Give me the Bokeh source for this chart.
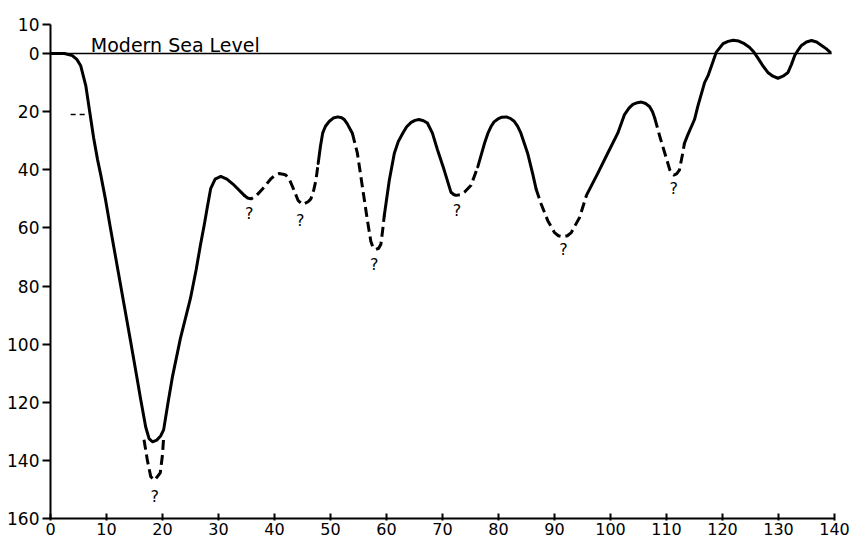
from bokeh.plotting import figure
from bokeh.models import Range1d, FixedTicker, ColumnDataSource
from bokeh.core.properties import value
from bokeh.embed import file_html
from bokeh.resources import INLINE

# ---- data: age (ka) vs sea level depth below modern (m) ----
# solid segments
drop_age = [0, 2.5, 3.9, 4.7, 5.4, 6.3, 7.0, 7.7, 8.4, 9.0, 9.8, 10.7, 11.9, 13.1, 14.3, 15.3, 16.1, 17.0,
            17.6, 18.2, 19.0, 19.7, 20.2, 21.0, 21.8, 23.2, 25.0, 26.0, 26.8, 27.5, 28.0, 28.6, 29.4,
            30.4, 31.5, 32.8, 34.6]
drop_depth = [0, 0, 0.7, 2.0, 4.2, 11.0, 20.0, 29.0, 36.5, 42.0, 50, 60, 73, 86, 99, 110, 119, 128.5,
              132.5, 133.6, 133.0, 131.5, 129.5, 120, 111, 98, 84.2, 74.5, 65.6, 58.5, 52.9, 46.5, 43.2,
              42.3, 43.2, 45.3, 48.8]
hump50_age = [47.8, 48.2, 48.6, 49.1, 49.8, 50.5, 51.3, 52.0, 52.5, 53.0, 53.9]
hump50_depth = [37.8, 32.0, 27.4, 25.0, 23.3, 22.2, 21.8, 22.1, 22.8, 24.2, 27.4]
hump65_age = [59.6, 60.5, 61.4, 62.1, 62.9, 63.6, 64.4, 65.1, 65.8, 66.6, 67.3, 68.2, 69.1, 70.3, 71.5]
hump65_depth = [55.8, 43.6, 34.3, 30.3, 27.4, 25.2, 23.7, 23.0, 22.7, 23.1, 23.9, 27.4, 33.1, 40.1, 47.7]
hump80_age = [76.3, 77.5, 78.1, 78.7, 79.2, 79.9, 80.6, 81.4, 82.1, 82.8, 83.4, 84.0, 85.2, 86.1, 86.7]
hump80_depth = [39, 30.9, 27.5, 25, 23.5, 22.5, 21.9, 21.8, 22.3, 23.3, 25.0, 27.4, 34.3, 41.3, 46.5]
hump105_age = [95.7, 97.7, 99.5, 101.3, 102.5, 103.3, 104.0, 104.8, 105.5, 106.3, 107.0, 107.5, 107.9]
hump105_depth = [48.8, 41.3, 34.3, 27.4, 21, 18.8, 17.5, 16.9, 16.7, 17.2, 18.3, 20.0, 22.2]
rise_age = [113.2, 113.8, 115.0, 115.6, 116.8, 117.4, 118.2, 118.9, 120.1, 121.0, 121.9, 122.9, 123.9, 124.8,
            125.6, 126.3, 127.2, 128.1, 129.0, 129.9, 130.8, 131.7, 132.3, 132.9, 133.5, 134.1, 135.0,
            135.9, 136.8, 137.7, 138.5, 139.2]
rise_depth = [30.9, 28.0, 22.7, 18.1, 10, 7.7, 3.3, -0.5, -3.4, -4.2, -4.6, -4.3, -3.4, -2.2,
              -0.5, 1.5, 4.2, 6.5, 7.8, 8.5, 7.8, 6.5, 3.8, 0.7, -1.2, -2.8, -4.0,
              -4.5, -4.0, -2.8, -1.7, -0.5]

# dashed (uncertain) segments
low18_age = [16.7, 17.3, 17.9, 18.6, 19.6, 20.0, 20.2]
low18_depth = [132.9, 140.0, 145.6, 146.8, 144.3, 138.0, 132.2]
low40_age = [34.6, 35.2, 35.8, 36.8, 37.9, 39.4, 40.1, 40.8, 41.5, 42.0, 42.6, 43.5, 44.2, 45.0, 46.0, 46.5, 47.0, 47.4, 47.8]
low40_depth = [48.8, 49.7, 50, 48.8, 46.5, 43, 41.8, 41.3, 41.5, 41.8, 43, 47.1, 50.5, 51.9, 51, 50, 47.0, 43.6, 37.8]
low57_age = [53.9, 54.8, 55.7, 56.6, 57.2, 57.6, 58.1, 58.6, 59.0, 59.3, 59.6]
low57_depth = [27.4, 34.3, 45.9, 57.5, 64.6, 66.8, 67.4, 67.0, 65.6, 61.0, 55.8]
low72_age = [71.5, 72.0, 72.4, 73.1, 73.9, 75.1, 76.3]
low72_depth = [47.7, 48.5, 48.8, 48.6, 47.7, 45.3, 39]
low91_age = [86.7, 87.6, 88.8, 90.0, 90.7, 91.5, 92.3, 93.0, 94.5, 95.7]
low91_depth = [46.5, 51.7, 57.5, 61.6, 62.7, 63.1, 62.7, 61.6, 56.3, 48.8]
low111_age = [107.9, 108.8, 109.7, 110.6, 111.0, 111.3, 111.8, 112.3, 112.9, 113.2]
low111_depth = [22.2, 28.5, 34.3, 40.1, 41.4, 41.8, 41.4, 40.1, 34.3, 30.9]
mark20_age = [3.6, 6.8]
mark20_depth = [21, 21]

# question marks
q_age = [18.6, 35.5, 44.6, 57.8, 72.6, 91.6, 111.3]
q_depth = [152.4, 55.2, 57.3, 72.6, 54.0, 67.4, 46.5]

# axes
x_ticks = [0, 10, 20, 30, 40, 50, 60, 70, 80, 90, 100, 110, 120, 130, 140]
y_ticks = [-10, 0, 20, 40, 60, 80, 100, 120, 140, 160]
y_tick_labels = {-10: "10"}
sea_level_label = "Modern Sea Level"
sea_level_age = [0, 139.5]
sea_level_depth = [0, 0]

FONT = "DejaVu Sans"

p = figure(width=852, height=544, output_backend="svg", toolbar_location=None,
           x_range=Range1d(0, 140), y_range=Range1d(160, -10),
           min_border_left=50, min_border_right=18, min_border_top=24, min_border_bottom=26)
p.outline_line_color = None
p.xgrid.visible = False
p.ygrid.visible = False
p.background_fill_color = "white"

solid_xs = [drop_age, hump50_age, hump65_age, hump80_age, hump105_age, rise_age]
solid_ys = [drop_depth, hump50_depth, hump65_depth, hump80_depth, hump105_depth, rise_depth]
dash_xs = [low18_age, low40_age, low57_age, low72_age, low91_age, low111_age]
dash_ys = [low18_depth, low40_depth, low57_depth, low72_depth, low91_depth, low111_depth]

# sea level line
p.line(sea_level_age, sea_level_depth, line_color="black", line_width=1.6)

p.multi_line(xs=solid_xs, ys=solid_ys, line_color="black", line_width=3,
             line_join="round", line_cap="round")
p.multi_line(xs=dash_xs, ys=dash_ys, line_color="black", line_width=3,
             line_dash="10 5", line_join="round")
p.line(mark20_age, mark20_depth, line_color="black", line_width=1.5, line_dash="5 4")

qsrc = ColumnDataSource(dict(x=q_age, y=q_depth, t=["?"] * len(q_age)))
p.text(x="x", y="y", text="t", source=qsrc, text_align="center", text_baseline="middle",
       text_font=value(FONT), text_font_size="16px", text_color="black")

p.text(x=[7.2], y=[-2.8], text=[sea_level_label], text_align="left", text_baseline="middle",
       text_font=value(FONT), text_font_size="19px", text_color="black")

for ax in (p.xaxis[0], p.yaxis[0]):
    ax.axis_line_color = "black"
    ax.axis_line_width = 2
    ax.major_tick_line_color = "black"
    ax.major_tick_line_width = 2
    ax.minor_tick_line_color = None
    ax.major_label_text_font = FONT
    ax.major_label_text_color = "black"

p.xaxis.ticker = FixedTicker(ticks=x_ticks)
p.xaxis.major_label_text_font_size = "16px"
p.xaxis.major_tick_in = 5
p.xaxis.major_tick_out = 2
p.xaxis.major_label_standoff = 2

p.yaxis.ticker = FixedTicker(ticks=y_ticks)
p.yaxis.major_label_overrides = y_tick_labels
p.yaxis.major_label_text_font_size = "17px"
p.yaxis.major_tick_in = 0
p.yaxis.major_tick_out = 8
p.yaxis.major_label_standoff = 3

open("out.html", "w").write(file_html(p, INLINE))
